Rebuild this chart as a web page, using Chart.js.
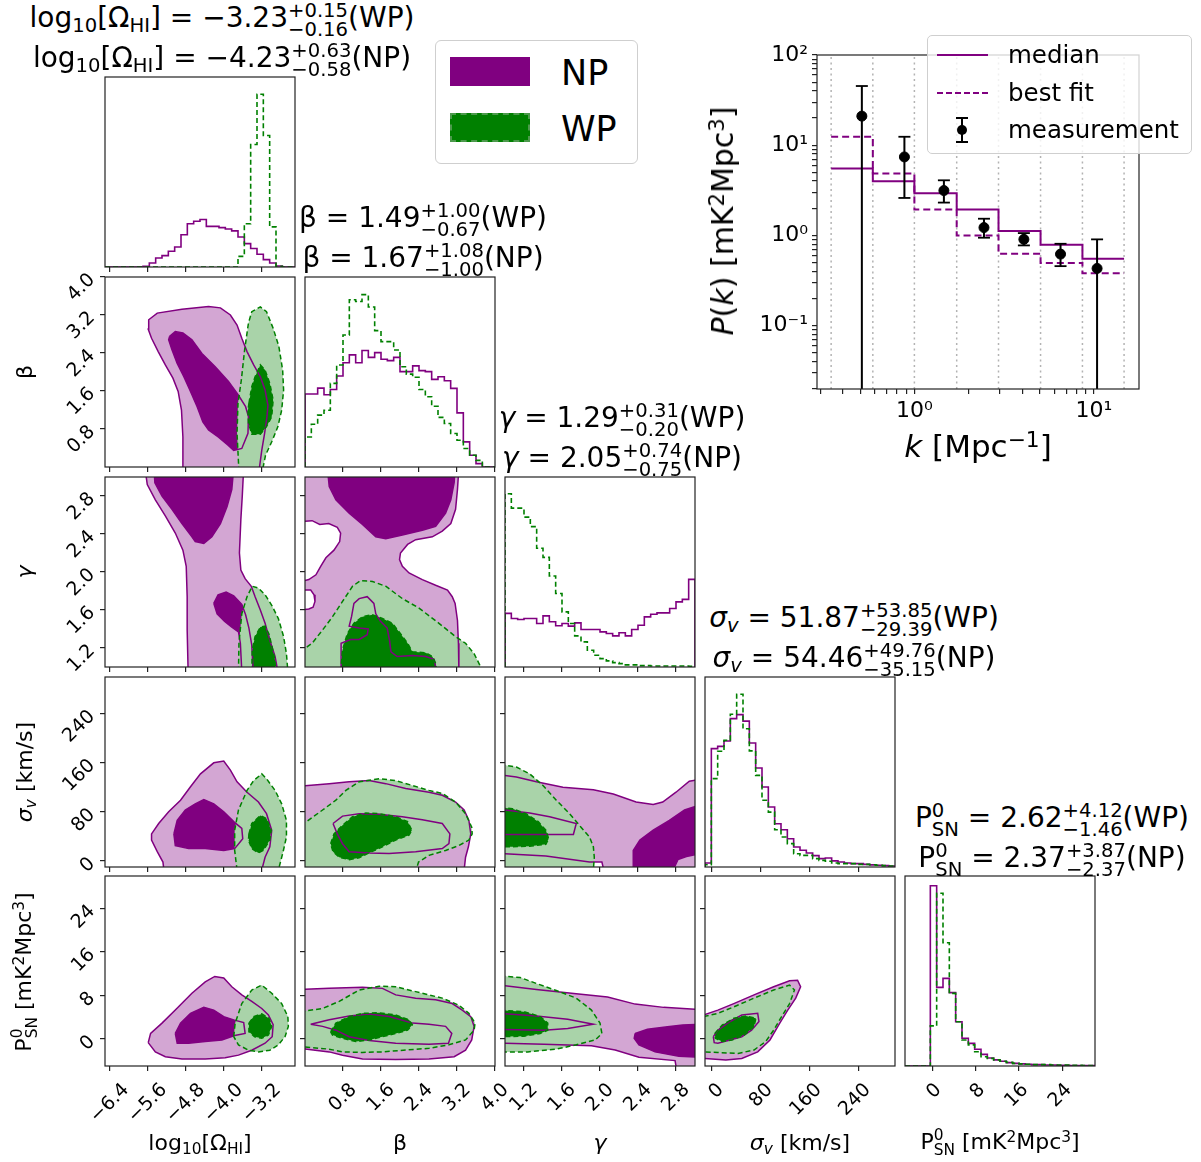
<!DOCTYPE html>
<html>
<head>
<meta charset="utf-8">
<script src="https://cdn.jsdelivr.net/npm/chart.js@4/dist/chart.umd.min.js"></script>
<style>
  body { margin: 0; width: 1201px; height: 1162px; position: relative; overflow: hidden; background: #fff; font-family: "DejaVu Sans", sans-serif; color: #000; }
  canvas { position: absolute; }
  .txt { position: absolute; white-space: nowrap; line-height: 1; }
  .title { font-size: 28px; transform: translateX(-50%); }
  .pm { display: inline-block; font-size: 0.7em; line-height: 0.95; vertical-align: -0.42em; text-align: left; }
  .pm span { display: block; }
  sub { font-size: 0.7em; vertical-align: -0.25em; line-height: 0; }
  sup { font-size: 0.7em; vertical-align: 0.45em; line-height: 0; }
  .xlab { font-size: 22px; transform: translate(-50%, -50%); }
  .ylab { font-size: 22px; transform: translate(-50%, -50%) rotate(-90deg); }
  .box { position: absolute; border: 1px solid #cfcfcf; border-radius: 6px; background: rgba(255,255,255,0.8); }
  .sw { position: absolute; }
</style>
</head>
<body>
<script>
'use strict'

// ---------- parameter axes ----------
const paramRanges = [[-6.5, -2.5], [0, 4], [1, 3], [-10, 300], [-5, 30]]
const omegaTicks = [-6.4, -5.6, -4.8, -4.0, -3.2]
const betaTicks = [0.8, 1.6, 2.4, 3.2, 4.0]
const gammaTicks = [1.2, 1.6, 2.0, 2.4, 2.8]
const sigmaTicks = [0, 80, 160, 240]
const psnTicks = [0, 8, 16, 24]
const paramTicks = [omegaTicks, betaTicks, gammaTicks, sigmaTicks, psnTicks]
const tickDecimals = [1, 1, 1, 0, 0]

// ---------- title numbers ----------
const wpMedian = [-3.23, 1.49, 1.29, 51.87, 2.62]
const wpPlus = [0.15, 1.00, 0.31, 53.85, 4.12]
const wpMinus = [0.16, 0.67, 0.20, 29.39, 1.46]
const npMedian = [-4.23, 1.67, 2.05, 54.46, 2.37]
const npPlus = [0.63, 1.08, 0.74, 49.76, 3.87]
const npMinus = [0.58, 1.00, 0.75, 35.15, 2.37]

// ---------- 1D histograms (30 bins over each axis range, height as fraction of panel) ----------
const npHistOmega = [0, 0, 0, 0, 0, 0, 0.004, 0.021, 0.047, 0.060, 0.083, 0.105, 0.170, 0.228, 0.241, 0.250, 0.214, 0.214, 0.207, 0.200, 0.190, 0.158, 0.123, 0.097, 0.067, 0.039, 0.021, 0.005, 0, 0]
const wpHistOmega = [0, 0, 0, 0, 0, 0, 0, 0, 0, 0, 0, 0, 0, 0, 0, 0, 0, 0, 0, 0, 0, 0.056, 0.228, 0.645, 0.909, 0.692, 0.211, 0.004, 0, 0]
const npHistBeta = [0.384, 0.384, 0.415, 0.380, 0.408, 0.479, 0.549, 0.590, 0.549, 0.613, 0.577, 0.602, 0.567, 0.560, 0.577, 0.502, 0.502, 0.532, 0.507, 0.502, 0.461, 0.475, 0.454, 0.414, 0.285, 0.132, 0.062, 0.018, 0, 0]
const wpHistBeta = [0.158, 0.225, 0.273, 0.299, 0.440, 0.537, 0.695, 0.880, 0.871, 0.907, 0.842, 0.718, 0.660, 0.660, 0.616, 0.528, 0.489, 0.472, 0.408, 0.370, 0.320, 0.261, 0.229, 0.176, 0.141, 0.097, 0.062, 0.035, 0, 0]
const npHistGamma = [0.282, 0.255, 0.250, 0.255, 0.255, 0.229, 0.269, 0.238, 0.217, 0.229, 0.215, 0.232, 0.197, 0.197, 0.197, 0.185, 0.176, 0.164, 0.180, 0.164, 0.197, 0.220, 0.264, 0.278, 0.285, 0.285, 0.308, 0.343, 0.356, 0.461]
const wpHistGamma = [0.912, 0.836, 0.836, 0.789, 0.739, 0.625, 0.577, 0.479, 0.387, 0.290, 0.229, 0.164, 0.132, 0.088, 0.062, 0.044, 0.032, 0.023, 0.018, 0.011, 0.011, 0.007, 0.007, 0.005, 0.005, 0.005, 0.005, 0.005, 0.005, 0.004]
const npHistSigma = [0.021, 0.623, 0.635, 0.663, 0.781, 0.802, 0.768, 0.653, 0.521, 0.421, 0.316, 0.228, 0.196, 0.149, 0.105, 0.088, 0.074, 0.060, 0.044, 0.047, 0.032, 0.026, 0.021, 0.018, 0.018, 0.014, 0.011, 0.009, 0.007, 0.005]
const wpHistSigma = [0.012, 0.465, 0.609, 0.667, 0.804, 0.909, 0.728, 0.611, 0.482, 0.351, 0.289, 0.196, 0.158, 0.123, 0.070, 0.061, 0.061, 0.044, 0.035, 0.030, 0.021, 0.018, 0.018, 0.018, 0.014, 0.014, 0.012, 0.009, 0.007, 0.005]
const npHistPsn = [0, 0, 0, 0, 0.949, 0.414, 0.461, 0.386, 0.233, 0.146, 0.119, 0.088, 0.061, 0.042, 0.032, 0.025, 0.018, 0.014, 0.011, 0.009, 0.007, 0.007, 0.005, 0.005, 0.004, 0.004, 0.003, 0.003, 0.003, 0.002]
const wpHistPsn = [0, 0, 0, 0, 0.211, 0.909, 0.649, 0.382, 0.233, 0.137, 0.111, 0.075, 0.049, 0.040, 0.032, 0.025, 0.019, 0.014, 0.011, 0.009, 0.007, 0.007, 0.007, 0.005, 0.005, 0.005, 0.004, 0.004, 0.003, 0.003]
const npHists = [npHistOmega, npHistBeta, npHistGamma, npHistSigma, npHistPsn]
const wpHists = [wpHistOmega, wpHistBeta, wpHistGamma, wpHistSigma, wpHistPsn]

// ---------- 2D credible regions, [x, y] in data units ----------
const npOuterOmegaBeta = [[-4.86, -0.1], [-4.86, 0.63], [-4.89, 1.20], [-4.96, 1.59], [-5.07, 1.87], [-5.23, 2.15], [-5.38, 2.43], [-5.52, 2.71], [-5.59, 2.90], [-5.58, 3.10], [-5.40, 3.24], [-4.88, 3.32], [-4.32, 3.38], [-4.07, 3.35], [-3.86, 3.20], [-3.72, 2.99], [-3.62, 2.71], [-3.51, 2.43], [-3.37, 2.15], [-3.23, 1.90], [-3.13, 1.62], [-3.07, 1.30], [-3.09, 1.06], [-3.14, 0.71], [-3.20, 0.35], [-3.26, -0.1]]
const npInnerOmegaBeta = [[-5.14, 2.75], [-5.02, 2.85], [-4.86, 2.82], [-4.67, 2.68], [-4.46, 2.39], [-4.18, 2.11], [-3.90, 1.80], [-3.69, 1.51], [-3.54, 1.27], [-3.48, 1.06], [-3.49, 0.71], [-3.62, 0.39], [-3.79, 0.35], [-3.91, 0.46], [-4.11, 0.63], [-4.32, 0.78], [-4.44, 0.95], [-4.56, 1.27], [-4.70, 1.59], [-4.84, 1.90], [-4.98, 2.18], [-5.09, 2.47], [-5.16, 2.68]]
const wpOuterOmegaBeta = [[-3.68, -0.1], [-3.72, 0.71], [-3.70, 1.34], [-3.63, 1.83], [-3.56, 2.47], [-3.48, 3.03], [-3.41, 3.27], [-3.23, 3.37], [-3.10, 3.27], [-2.96, 2.92], [-2.84, 2.54], [-2.76, 2.04], [-2.74, 1.62], [-2.78, 1.20], [-2.86, 0.85], [-2.99, 0.53], [-3.12, 0.25], [-3.19, -0.1]]
const wpInnerOmegaBeta = [[-3.47, 1.34], [-3.41, 1.69], [-3.34, 1.90], [-3.23, 2.15], [-3.13, 2.04], [-3.03, 1.76], [-2.96, 1.41], [-2.99, 1.06], [-3.10, 0.85], [-3.23, 0.69], [-3.41, 0.69], [-3.48, 0.92], [-3.49, 1.20]]

const npOuterOmegaGamma = [[-5.66, 3.1], [-5.61, 2.92], [-5.44, 2.76], [-5.23, 2.59], [-5.02, 2.41], [-4.86, 2.23], [-4.79, 2.06], [-4.77, 1.74], [-4.77, 1.39], [-4.75, 0.95], [-2.86, 0.95], [-2.92, 1.11], [-3.03, 1.28], [-3.13, 1.46], [-3.23, 1.60], [-3.34, 1.74], [-3.42, 1.85], [-3.55, 1.93], [-3.64, 2.02], [-3.67, 2.20], [-3.64, 2.55], [-3.61, 2.80], [-3.58, 3.1]]
const npInnerOmegaGammaTop = [[-5.47, 3.1], [-5.45, 2.94], [-5.30, 2.80], [-5.09, 2.66], [-4.88, 2.51], [-4.67, 2.37], [-4.60, 2.32], [-4.42, 2.30], [-4.25, 2.37], [-4.07, 2.51], [-3.93, 2.69], [-3.83, 2.87], [-3.79, 3.1]]
const npInnerOmegaGammaLow = [[-4.21, 1.67], [-4.12, 1.76], [-3.95, 1.79], [-3.79, 1.75], [-3.62, 1.66], [-3.54, 1.55], [-3.47, 1.41], [-3.41, 1.23], [-3.38, 0.95], [-3.62, 0.95], [-3.65, 1.25], [-3.69, 1.37], [-3.83, 1.42], [-3.98, 1.48], [-4.14, 1.56]]
const wpOuterOmegaGamma = [[-3.69, 0.95], [-3.68, 1.25], [-3.62, 1.56], [-3.51, 1.74], [-3.40, 1.85], [-3.27, 1.83], [-3.13, 1.76], [-2.99, 1.65], [-2.85, 1.51], [-2.74, 1.32], [-2.68, 1.14], [-2.65, 0.95]]
const wpInnerOmegaGamma = [[-3.41, 0.95], [-3.40, 1.18], [-3.34, 1.32], [-3.23, 1.42], [-3.13, 1.43], [-3.05, 1.35], [-2.98, 1.21], [-2.92, 1.07], [-2.91, 0.95]]

const npOuterBetaGamma = [[-0.1, 3.1], [3.24, 3.1], [3.21, 2.87], [3.17, 2.66], [3.07, 2.51], [2.89, 2.43], [2.68, 2.37], [2.33, 2.34], [2.16, 2.29], [2.01, 2.20], [1.99, 2.13], [2.05, 2.06], [2.19, 1.99], [2.47, 1.92], [2.75, 1.86], [3.00, 1.81], [3.10, 1.74], [3.16, 1.67], [3.21, 1.49], [3.23, 1.25], [3.24, 0.95], [-0.1, 0.95]]
const npHoleBetaGamma1 = [[-0.1, 2.53], [0.15, 2.54], [0.31, 2.50], [0.50, 2.51], [0.68, 2.47], [0.75, 2.41], [0.73, 2.32], [0.61, 2.23], [0.44, 2.15], [0.33, 2.06], [0.23, 1.97], [0.08, 1.92], [-0.1, 1.90]]
const npHoleBetaGamma2 = [[-0.1, 1.81], [0.12, 1.81], [0.19, 1.76], [0.21, 1.69], [0.17, 1.63], [0.08, 1.61], [-0.1, 1.60]]
const npInnerBetaGammaTop = [[0.47, 3.1], [0.51, 2.90], [0.65, 2.76], [0.93, 2.62], [1.21, 2.50], [1.49, 2.37], [1.70, 2.35], [2.05, 2.39], [2.47, 2.44], [2.75, 2.48], [2.96, 2.62], [3.07, 2.76], [3.14, 2.94], [3.16, 3.1]]
const npInnerBetaGammaLow = [[0.77, 0.95], [0.76, 1.25], [0.96, 1.29], [1.14, 1.29], [1.31, 1.34], [1.33, 1.40], [1.14, 1.41], [0.93, 1.43], [0.98, 1.53], [1.03, 1.67], [1.14, 1.72], [1.31, 1.74], [1.45, 1.67], [1.49, 1.56], [1.59, 1.48], [1.73, 1.41], [1.78, 1.28], [1.81, 1.16], [1.94, 1.11], [2.26, 1.12], [2.54, 1.11], [2.72, 1.08], [2.77, 0.95]]
const wpOuterBetaGamma = [[-0.1, 1.16], [0.15, 1.25], [0.37, 1.39], [0.58, 1.53], [0.79, 1.69], [1.00, 1.85], [1.17, 1.91], [1.42, 1.90], [1.70, 1.85], [2.05, 1.72], [2.40, 1.62], [2.82, 1.46], [3.17, 1.32], [3.38, 1.25], [3.56, 1.14], [3.68, 1.02], [3.69, 0.95], [-0.1, 0.95]]
const wpInnerBetaGamma = [[0.75, 0.95], [0.79, 1.18], [0.89, 1.35], [1.03, 1.46], [1.21, 1.53], [1.42, 1.55], [1.63, 1.51], [1.84, 1.46], [2.01, 1.35], [2.16, 1.25], [2.26, 1.16], [2.54, 1.15], [2.68, 1.11], [2.75, 1.04], [2.77, 0.95]]

const npOuterOmegaSigma = [[-5.26, -15], [-5.28, -2], [-5.40, 15], [-5.52, 34], [-5.52, 44], [-5.37, 61], [-5.16, 80], [-4.91, 99], [-4.70, 121], [-4.49, 142], [-4.21, 160], [-4.00, 163], [-3.86, 148], [-3.72, 129], [-3.51, 112], [-3.27, 96], [-3.10, 77], [-2.99, 50], [-3.03, 23], [-3.13, 6], [-3.20, -15]]
const npInnerOmegaSigma = [[-5.05, 44], [-4.98, 66], [-4.81, 83], [-4.60, 93], [-4.42, 100], [-4.21, 93], [-4.00, 80], [-3.79, 64], [-3.62, 53], [-3.60, 36], [-3.77, 20], [-4.00, 17], [-4.39, 20], [-4.74, 20], [-5.02, 25]]
const wpOuterOmegaSigma = [[-3.72, -15], [-3.77, 17], [-3.77, 50], [-3.69, 83], [-3.51, 115], [-3.37, 131], [-3.20, 142], [-3.10, 134], [-2.92, 115], [-2.78, 93], [-2.68, 66], [-2.68, 39], [-2.75, 15], [-2.85, -15]]
const wpInnerOmegaSigma = [[-3.47, 44], [-3.41, 61], [-3.23, 74], [-3.10, 69], [-3.00, 50], [-3.03, 34], [-3.17, 17], [-3.27, 13], [-3.41, 20], [-3.48, 34]]

const npOuterBetaSigma = [[-0.1, 122], [0.51, 126], [0.93, 129], [1.35, 131], [1.70, 126], [2.12, 118], [2.61, 112], [2.89, 107], [3.17, 96], [3.35, 83], [3.45, 66], [3.49, 44], [3.44, 23], [3.38, 6], [3.35, -15], [-0.1, -15]]
const npInnerBetaSigma = [[0.59, 61], [0.79, 73], [1.14, 77], [1.56, 76], [2.05, 72], [2.47, 67], [2.89, 61], [3.05, 44], [3.03, 28], [2.89, 20], [2.33, 15], [1.77, 12], [1.35, 13], [0.93, 15], [0.79, 28], [0.68, 44]]
const wpOuterBetaSigma = [[-0.1, 60], [0.05, 65], [0.37, 83], [0.65, 99], [0.86, 115], [1.14, 129], [1.56, 134], [1.91, 131], [2.26, 123], [2.61, 115], [2.89, 110], [3.17, 96], [3.38, 77], [3.51, 55], [3.52, 44], [3.45, 34], [3.24, 25], [2.96, 17], [2.61, 9], [2.39, -2], [2.34, -15], [-0.1, -15]]
const wpInnerBetaSigma = [[0.54, 28], [0.61, 44], [0.79, 58], [1.00, 72], [1.28, 78], [1.56, 77], [1.91, 72], [2.16, 64], [2.25, 50], [2.19, 42], [1.91, 34], [1.63, 23], [1.35, 13], [1.14, 5], [0.93, 2], [0.72, 6], [0.59, 15]]

const npOuterGammaSigma = [[0.95, 140], [1.12, 137], [1.33, 129], [1.61, 120], [1.93, 116], [2.14, 109], [2.38, 96], [2.56, 92], [2.66, 96], [2.80, 112], [2.94, 130], [3.05, 133], [3.05, -15], [0.95, -15]]
const npHoleGammaSigma = [[0.95, 12], [1.43, 8], [1.89, -2], [2.02, -2], [2.04, -15], [0.95, -15]]
const npInnerGammaSigmaRight = [[2.35, -15], [2.35, 17], [2.42, 34], [2.56, 50], [2.73, 66], [2.89, 83], [3.05, 91], [3.05, 12], [2.91, 7], [2.82, 2], [2.77, -15]]
const npInnerGammaSigmaLeft = [[0.95, 84], [1.26, 78], [1.47, 72], [1.75, 61], [1.72, 43], [1.47, 43], [0.95, 43]]
const wpOuterGammaSigma = [[0.95, 157], [1.12, 153], [1.26, 142], [1.40, 123], [1.54, 99], [1.68, 77], [1.80, 55], [1.89, 39], [1.93, 23], [1.94, 6], [1.93, -15], [0.95, -15]]
const wpInnerGammaSigma = [[0.95, 87], [1.08, 85], [1.22, 77], [1.35, 64], [1.43, 50], [1.46, 36], [1.43, 27], [1.26, 24], [1.08, 23], [0.95, 23]]

const npOuterOmegaPsn = [[-5.59, -0.7], [-5.54, 1.0], [-5.30, 2.9], [-5.02, 5.3], [-4.67, 8.4], [-4.39, 10.5], [-4.19, 11.5], [-4.00, 11.2], [-3.83, 9.6], [-3.62, 8.1], [-3.41, 6.9], [-3.20, 5.6], [-3.06, 4.4], [-2.96, 2.6], [-2.98, 0.4], [-3.13, -0.8], [-3.41, -2.1], [-3.69, -3.0], [-3.97, -3.5], [-4.39, -3.7], [-4.88, -3.7], [-5.23, -3.3], [-5.44, -2.4]]
const npInnerOmegaPsn = [[-5.02, 1.0], [-4.91, 2.9], [-4.70, 4.7], [-4.42, 5.8], [-4.21, 5.3], [-4.00, 4.1], [-3.79, 3.5], [-3.58, 3.0], [-3.55, 1.0], [-3.77, 0.6], [-4.04, -0.2], [-4.39, -0.5], [-4.74, -0.8], [-4.98, -0.8]]
const wpOuterOmegaPsn = [[-3.79, 0.4], [-3.76, 2.9], [-3.62, 6.5], [-3.41, 9.0], [-3.20, 9.9], [-2.99, 8.4], [-2.78, 6.5], [-2.65, 4.1], [-2.64, 2.3], [-2.71, 0.4], [-2.85, -1.1], [-3.03, -2.1], [-3.27, -2.4], [-3.48, -2.1], [-3.69, -1.1]]
const wpInnerOmegaPsn = [[-3.47, 2.9], [-3.37, 4.1], [-3.20, 4.6], [-3.05, 3.8], [-2.99, 2.3], [-3.06, 0.7], [-3.20, 0.1], [-3.35, 0.4], [-3.47, 1.3]]

const npOuterBetaPsn = [[-0.1, 9.1], [0.51, 9.3], [1.21, 9.5], [1.63, 9.3], [1.91, 8.1], [2.33, 7.5], [2.75, 7.2], [3.10, 6.5], [3.31, 5.3], [3.49, 4.1], [3.56, 2.3], [3.51, -0.2], [3.38, -2.1], [3.14, -3.3], [2.61, -3.7], [1.91, -3.8], [1.21, -3.7], [0.79, -3.0], [0.51, -2.4], [-0.1, -1.75]]
const npInnerBetaPsn = [[0.12, 2.7], [0.51, 3.5], [0.93, 4.2], [1.35, 4.6], [1.77, 4.1], [2.26, 2.9], [2.61, 2.7], [2.96, 2.3], [3.09, 1.0], [3.02, -0.8], [2.61, -1.0], [1.91, -0.8], [1.35, -0.3], [0.93, 0.4], [0.65, 1.6], [0.37, 2.3]]
const wpOuterBetaPsn = [[-0.1, 5.0], [0.37, 5.6], [0.72, 6.9], [1.14, 9.0], [1.56, 9.7], [1.91, 9.6], [2.33, 8.7], [2.89, 7.5], [3.24, 6.2], [3.45, 4.7], [3.58, 2.9], [3.56, 1.6], [3.38, -0.2], [3.03, -1.1], [2.61, -1.75], [2.12, -2.05], [1.63, -2.4], [1.21, -2.5], [0.79, -2.4], [0.51, -1.9], [-0.1, -1.4]]
const wpInnerBetaPsn = [[0.54, 1.3], [0.65, 2.9], [0.93, 4.1], [1.21, 4.7], [1.56, 4.8], [1.91, 4.4], [2.19, 3.5], [2.26, 2.6], [2.16, 1.6], [1.91, 1.0], [1.63, 0.4], [1.35, -0.2], [1.07, -0.5], [0.79, 0.1], [0.58, 0.7]]

const npOuterGammaPsn = [[0.95, 9.9], [1.33, 9.1], [1.75, 8.3], [2.08, 7.7], [2.37, 6.4], [2.67, 5.8], [3.05, 5.4], [3.05, -6], [2.81, -6], [2.79, -4.0], [2.41, -3.4], [2.16, -2.05], [1.91, -1.25], [1.41, -1.0], [0.95, -0.8]]
const npInnerGammaPsnRight = [[2.37, 1.0], [2.50, 1.75], [2.71, 2.25], [2.87, 2.55], [3.05, 2.7], [3.05, -3.4], [2.83, -3.2], [2.58, -2.4], [2.41, -1.1], [2.36, 0.1]]
const npInnerGammaPsnLeft = [[0.95, 4.7], [1.33, 4.2], [1.66, 3.6], [1.93, 2.7], [1.66, 1.9], [1.41, 1.6], [0.95, 1.75]]
const wpOuterGammaPsn = [[0.95, 11.6], [1.16, 11.3], [1.33, 10.2], [1.54, 8.9], [1.75, 7.5], [1.91, 5.3], [2.00, 2.9], [2.02, 1.0], [1.95, -0.2], [1.75, -1.1], [1.54, -1.9], [1.24, -2.4], [0.95, -2.4]]
const wpInnerGammaPsn = [[0.95, 5.3], [1.20, 5.0], [1.37, 4.1], [1.45, 2.9], [1.45, 1.6], [1.37, 1.0], [1.20, 0.5], [0.95, 0.4]]

const npOuterSigmaPsn = [[-12, 4.4], [11, 5.3], [37, 6.5], [70, 8.1], [102, 9.6], [128, 10.7], [141, 10.8], [146, 9.6], [138, 7.5], [125, 5.3], [112, 2.9], [96, -0.2], [76, -2.4], [50, -3.6], [24, -3.9], [-12, -3.6]]
const npInnerSigmaPsn = [[3.6, 0.4], [11, 1.6], [31, 3.2], [50, 4.4], [76, 4.7], [78, 3.2], [66, 1.6], [50, 0.4], [31, -0.2], [11, -0.8], [5, -0.7]]
const wpOuterSigmaPsn = [[-12, 4.1], [11, 4.7], [37, 5.9], [70, 7.5], [102, 9.0], [128, 9.9], [136, 9.0], [128, 6.5], [115, 4.1], [102, 1.6], [89, -0.5], [70, -2.05], [44, -2.7], [11, -2.5], [-12, -2.4]]
const wpInnerSigmaPsn = [[6, 1.0], [18, 2.55], [37, 3.8], [57, 4.2], [73, 3.8], [70, 2.25], [54, 0.7], [34, -0.2], [18, -0.5], [7, 0.1]]

// ---------- power spectrum inset ----------
const kEdges = [0.344, 0.587, 1.0, 1.72, 2.94, 5.04, 8.62, 14.7]
const pkMedian = [5.51, 3.98, 2.93, 1.94, 1.12, 0.787, 0.55]
const pkBestFit = [12.4, 4.85, 1.93, 1.0, 0.625, 0.493, 0.381]
const kMeas = [0.510, 0.880, 1.46, 2.44, 4.07, 6.51, 10.4]
const pkMeas = [21.0, 7.41, 3.14, 1.22, 0.903, 0.620, 0.430]
const pkErrHi = [45.3, 12.4, 4.08, 1.53, 1.06, 0.807, 0.903]
const pkErrLo = [0.001, 2.60, 2.31, 0.942, 0.774, 0.456, 0.001] // first/last run off the bottom
const kTickValues = [0.3, 0.4, 0.5, 0.6, 0.7, 0.8, 0.9, 1, 2, 3, 4, 5, 6, 7, 8, 9, 10]
const pkTickValues = [0.02, 0.03, 0.04, 0.05, 0.06, 0.07, 0.08, 0.09, 0.1, 0.2, 0.3, 0.4, 0.5, 0.6, 0.7, 0.8, 0.9, 1, 2, 3, 4, 5, 6, 7, 8, 9, 10, 20, 30, 40, 50, 60, 70, 80, 90, 100]
const decadeLabels = { '0.1': '10\u207B\u00B9', '1': '10\u2070', '10': '10\u00B9', '100': '10\u00B2' }

// ---------- styling / layout ----------
const PURPLE = '#800080'
const PURPLE_LIGHT = '#d3a6d3'
const GREEN = '#008000'
const GREEN_LIGHT = '#a9d3a9'
const panelLefts = [105, 305, 505, 705, 905]
const panelTops = [77, 277, 477, 677, 876]
const PANEL = 190
const ML = 78, MT = 12, MR = 12, MB = 88 // canvas margins round each panel
const TICK_FONT = 19

const stack = (a, b) => `<span class="pm"><span>${a}</span><span>${b}</span></span>`
const paramNames = ['log<sub>10</sub>[\u03A9<sub>HI</sub>]', '\u03B2', '<i>\u03B3</i>', '<i>\u03C3<sub>v</sub></i>', 'P' + stack('0', 'SN')]
const axisNames = ['log<sub>10</sub>[\u03A9<sub>HI</sub>]', '\u03B2', '<i>\u03B3</i>', '<i>\u03C3<sub>v</sub></i> [km/s]', 'P' + stack('0', 'SN') + ' [mK<sup>2</sup>Mpc<sup>3</sup>]']
const titleCenters = [222, 423, 622, 854, 1052]

const fmtTick = (v, d) => (v < 0 ? '\u2212' : '') + Math.abs(v).toFixed(d)
const fmt2 = v => (v < 0 ? '\u2212' : '') + Math.abs(v).toFixed(2)

const meas = document.createElement('canvas').getContext('2d')
meas.font = TICK_FONT + 'px "DejaVu Sans"'
// rotated labels are anchored at their right end; shift by ~w/(2*sqrt 2) to centre them on the tick
const centreShift = p => {
  const ws = paramTicks[p].map(v => meas.measureText(fmtTick(v, tickDecimals[p])).width)
  return 0.354 * ws.reduce((a, b) => a + b, 0) / ws.length
}

const framePlugin = {
  id: 'frame',
  afterDraw (chart) {
    const { ctx, chartArea: a } = chart
    ctx.save()
    ctx.strokeStyle = '#222'
    ctx.lineWidth = 1.2
    ctx.strokeRect(a.left, a.top, a.right - a.left, a.bottom - a.top)
    ctx.restore()
  }
}

const addCanvas = (left, top, w, h) => {
  const cv = document.createElement('canvas')
  cv.width = w
  cv.height = h
  cv.style.left = left + 'px'
  cv.style.top = top + 'px'
  cv.style.width = w + 'px'
  cv.style.height = h + 'px'
  document.body.appendChild(cv)
  return cv
}

const addText = (cls, html, left, top, size) => {
  const d = document.createElement('div')
  d.className = 'txt ' + cls
  d.innerHTML = html
  d.style.left = left + 'px'
  d.style.top = top + 'px'
  if (size) d.style.fontSize = size + 'px'
  document.body.appendChild(d)
  return d
}

const zeroPad = s => { s.paddingLeft = s.paddingRight = s.paddingTop = s.paddingBottom = 0 }

const paramAxis = (p, isX, labels) => ({
  type: 'linear',
  min: paramRanges[p][0],
  max: paramRanges[p][1],
  afterBuildTicks: s => { s.ticks = paramTicks[p].map(v => ({ value: v })) },
  afterFit: s => { if (isX) s.height = MB; else s.width = ML; zeroPad(s) },
  border: { display: false },
  grid: { display: true, drawOnChartArea: false, drawTicks: true, tickLength: 5, color: '#222', lineWidth: 1.2 },
  ticks: {
    display: labels,
    autoSkip: false,
    minRotation: 45,
    maxRotation: 45,
    padding: isX ? 8 : 8,
    color: '#000',
    font: { family: 'DejaVu Sans', size: TICK_FONT },
    callback: v => fmtTick(v, tickDecimals[p]),
    labelOffset: isX ? centreShift(p) : 0
  }
})

const blankAxis = (range) => ({
  type: 'linear',
  min: range[0],
  max: range[1],
  afterFit: s => { s.width = ML; zeroPad(s) },
  border: { display: false },
  grid: { display: false },
  ticks: { display: false }
})

const panelChart = (r, c, datasets, yAxis) => {
  const cv = addCanvas(panelLefts[c] - ML, panelTops[r] - MT, ML + PANEL + MR, MT + PANEL + MB)
  datasets.forEach((d, i) => { d.order = datasets.length - i }) // first in list is painted first
  return new Chart(cv, {
    type: 'line',
    data: { datasets },
    options: {
      responsive: false,
      animation: false,
      events: [],
      layout: { padding: { top: MT, right: MR, left: 0, bottom: 0 } },
      plugins: { legend: { display: false }, tooltip: { enabled: false } },
      scales: { x: paramAxis(c, true, r === 4), y: yAxis }
    },
    plugins: [framePlugin]
  })
}

const polyData = pts => pts.map(p => ({ x: p[0], y: p[1] })).concat([{ x: pts[0][0], y: pts[0][1] }])
const fillSet = (pts, color) => ({ data: polyData(pts), fill: 'shape', backgroundColor: color, borderWidth: 0, pointRadius: 0, tension: 0 })
const lineSet = (pts, color, dash) => ({ data: polyData(pts), fill: false, borderColor: color, borderWidth: 1.5, borderDash: dash || [], pointRadius: 0, tension: 0 })

const histSet = (heights, range, color, dash) => {
  const w = (range[1] - range[0]) / heights.length
  const d = [{ x: range[0], y: 0 }]
  heights.forEach((h, i) => d.push({ x: range[0] + i * w, y: h }))
  d.push({ x: range[1], y: heights[heights.length - 1] })
  d.push({ x: range[1], y: 0 })
  return { data: d, stepped: true, fill: false, borderColor: color, borderWidth: 1.6, borderDash: dash || [], pointRadius: 0 }
}

// ---------- diagonal histograms ----------
for (let i = 0; i < 5; i++) {
  panelChart(i, i, [
    histSet(npHists[i], paramRanges[i], PURPLE),
    histSet(wpHists[i], paramRanges[i], GREEN, [5, 3])
  ], blankAxis([0, 1]))
}

// ---------- pair panels ----------
const pairPanels = [
  { r: 1, c: 0, npOuter: [npOuterOmegaBeta], npHoles: [], npInner: [npInnerOmegaBeta], wpOuter: [wpOuterOmegaBeta], wpInner: [wpInnerOmegaBeta] },
  { r: 2, c: 0, npOuter: [npOuterOmegaGamma], npHoles: [], npInner: [npInnerOmegaGammaTop, npInnerOmegaGammaLow], wpOuter: [wpOuterOmegaGamma], wpInner: [wpInnerOmegaGamma] },
  { r: 2, c: 1, npOuter: [npOuterBetaGamma], npHoles: [npHoleBetaGamma1, npHoleBetaGamma2], npInner: [npInnerBetaGammaTop, npInnerBetaGammaLow], wpOuter: [wpOuterBetaGamma], wpInner: [wpInnerBetaGamma] },
  { r: 3, c: 0, npOuter: [npOuterOmegaSigma], npHoles: [], npInner: [npInnerOmegaSigma], wpOuter: [wpOuterOmegaSigma], wpInner: [wpInnerOmegaSigma] },
  { r: 3, c: 1, npOuter: [npOuterBetaSigma], npHoles: [], npInner: [npInnerBetaSigma], wpOuter: [wpOuterBetaSigma], wpInner: [wpInnerBetaSigma] },
  { r: 3, c: 2, npOuter: [npOuterGammaSigma], npHoles: [npHoleGammaSigma], npInner: [npInnerGammaSigmaRight, npInnerGammaSigmaLeft], wpOuter: [wpOuterGammaSigma], wpInner: [wpInnerGammaSigma] },
  { r: 4, c: 0, npOuter: [npOuterOmegaPsn], npHoles: [], npInner: [npInnerOmegaPsn], wpOuter: [wpOuterOmegaPsn], wpInner: [wpInnerOmegaPsn] },
  { r: 4, c: 1, npOuter: [npOuterBetaPsn], npHoles: [], npInner: [npInnerBetaPsn], wpOuter: [wpOuterBetaPsn], wpInner: [wpInnerBetaPsn] },
  { r: 4, c: 2, npOuter: [npOuterGammaPsn], npHoles: [], npInner: [npInnerGammaPsnRight, npInnerGammaPsnLeft], wpOuter: [wpOuterGammaPsn], wpInner: [wpInnerGammaPsn] },
  { r: 4, c: 3, npOuter: [npOuterSigmaPsn], npHoles: [], npInner: [npInnerSigmaPsn], wpOuter: [wpOuterSigmaPsn], wpInner: [wpInnerSigmaPsn] }
]

pairPanels.forEach(p => {
  const sets = [].concat(
    p.npOuter.map(s => fillSet(s, PURPLE_LIGHT)),
    p.npHoles.map(s => fillSet(s, '#ffffff')),
    p.npInner.map(s => fillSet(s, PURPLE)),
    p.wpOuter.map(s => fillSet(s, GREEN_LIGHT)),
    p.wpInner.map(s => fillSet(s, GREEN)),
    p.npOuter.map(s => lineSet(s, PURPLE)),
    p.npHoles.map(s => lineSet(s, PURPLE)),
    p.npInner.map(s => lineSet(s, PURPLE)),
    p.wpOuter.map(s => lineSet(s, GREEN, [5, 3])),
    p.wpInner.map(s => lineSet(s, GREEN, [5, 3]))
  )
  panelChart(p.r, p.c, sets, paramAxis(p.r, false, p.c === 0))
})

// ---------- titles and axis labels ----------
for (let i = 0; i < 5; i++) {
  addText('title', `${paramNames[i]} = ${fmt2(wpMedian[i])}${stack('+' + wpPlus[i].toFixed(2), '\u2212' + wpMinus[i].toFixed(2))}(WP)`, titleCenters[i], 2 + 200 * i)
  addText('title', `${paramNames[i]} = ${fmt2(npMedian[i])}${stack('+' + npPlus[i].toFixed(2), '\u2212' + npMinus[i].toFixed(2))}(NP)`, titleCenters[i], 42 + 200 * i)
  addText('xlab', axisNames[i], 200 + 200 * i, 1143)
  if (i > 0) addText('ylab', axisNames[i], 25, 172 + 200 * i)
}

// ---------- NP / WP legend ----------
const legBox = document.createElement('div')
legBox.className = 'box'
Object.assign(legBox.style, { left: '435px', top: '40px', width: '201px', height: '122px' })
document.body.appendChild(legBox)
const swNP = document.createElement('div')
swNP.className = 'sw'
Object.assign(swNP.style, { left: '450px', top: '57px', width: '80px', height: '29px', background: PURPLE })
document.body.appendChild(swNP)
const swWP = document.createElement('div')
swWP.className = 'sw'
Object.assign(swWP.style, { left: '450px', top: '113px', width: '76px', height: '25px', background: GREEN, border: '2px dashed #4d9a4d' })
document.body.appendChild(swWP)
addText('', 'NP', 561, 56, 35)
addText('', 'WP', 561, 112, 35)

// ---------- P(k) inset ----------
const PK_LEFT = 690, PK_TOP = 40, PK_W = 480, PK_H = 400
const PK_ML = 127, PK_MT = 15, PK_MR = 31, PK_MB = 51
const yMin = 0.0198, yMax = 100

const stepData = vals => vals.map((v, i) => ({ x: kEdges[i], y: v })).concat([{ x: kEdges[kEdges.length - 1], y: vals[vals.length - 1] }])
const edgeLines = []
kEdges.forEach(e => { edgeLines.push({ x: e, y: yMin }, { x: e, y: yMax }, { x: e, y: null }) })
const errLines = []
kMeas.forEach((k, i) => { errLines.push({ x: k, y: pkErrLo[i] }, { x: k, y: pkErrHi[i] }, { x: k, y: null }) })
const caps = []
kMeas.forEach((k, i) => { caps.push({ x: k, y: pkErrLo[i] }, { x: k, y: pkErrHi[i] }) })

const pkSets = [
  { data: edgeLines, borderColor: '#b3b3b3', borderWidth: 1.5, borderDash: [2, 3.5], pointRadius: 0, spanGaps: false },
  { data: stepData(pkMedian), stepped: true, borderColor: PURPLE, borderWidth: 2, pointRadius: 0 },
  { data: stepData(pkBestFit), stepped: true, borderColor: PURPLE, borderWidth: 2, borderDash: [7, 4], pointRadius: 0 },
  { data: errLines, borderColor: '#000', borderWidth: 2, pointRadius: 0, spanGaps: false },
  { data: caps, showLine: false, pointStyle: 'line', pointRadius: 6, pointBorderWidth: 1.8, pointBorderColor: '#000' },
  { data: kMeas.map((k, i) => ({ x: k, y: pkMeas[i] })), showLine: false, pointRadius: 5, pointBackgroundColor: '#000', pointBorderColor: '#000' }
]
pkSets.forEach((d, i) => { d.order = pkSets.length - i })

const logAxis = (min, max, values, isX) => ({
  type: 'logarithmic',
  min,
  max,
  afterBuildTicks: s => { s.ticks = values.map(v => ({ value: v })) },
  afterFit: s => { if (isX) s.height = PK_MB; else s.width = PK_ML; zeroPad(s) },
  border: { display: false },
  grid: { drawOnChartArea: false, drawTicks: true, tickLength: 5, color: '#222', lineWidth: 1.2 },
  ticks: { autoSkip: false, minRotation: 0, maxRotation: 0, padding: 4, color: '#000', font: { family: 'DejaVu Sans', size: 22 }, callback: v => decadeLabels[String(v)] || '' }
})

new Chart(addCanvas(PK_LEFT, PK_TOP, PK_W, PK_H), {
  type: 'line',
  data: { datasets: pkSets },
  options: {
    responsive: false,
    animation: false,
    events: [],
    layout: { padding: { top: PK_MT, right: PK_MR, left: 0, bottom: 0 } },
    plugins: { legend: { display: false }, tooltip: { enabled: false } },
    scales: { x: logAxis(0.287, 17.8, kTickValues, true), y: logAxis(yMin, yMax, pkTickValues, false) }
  },
  plugins: [framePlugin]
})

addText('ylab', '<i>P</i>(<i>k</i>) [mK<sup>2</sup>Mpc<sup>3</sup>]', 723, 221, 30)
addText('xlab', '<i>k</i> [Mpc<sup>\u22121</sup>]', 978, 446, 31)

// legend of the inset
const pkBox = document.createElement('div')
pkBox.className = 'box'
Object.assign(pkBox.style, { left: '927px', top: '35px', width: '263px', height: '117px', borderRadius: '5px' })
document.body.appendChild(pkBox)
const addSwatch = style => {
  const d = document.createElement('div')
  d.className = 'sw'
  Object.assign(d.style, style)
  document.body.appendChild(d)
}
addSwatch({ left: '937px', top: '54px', width: '51px', height: '0', borderTop: '2px solid ' + PURPLE })
addSwatch({ left: '937px', top: '92px', width: '51px', height: '0', borderTop: '2px dashed ' + PURPLE })
addSwatch({ left: '961px', top: '117px', width: '2px', height: '26px', background: '#000' })
addSwatch({ left: '956px', top: '117px', width: '12px', height: '2px', background: '#000' })
addSwatch({ left: '956px', top: '141px', width: '12px', height: '2px', background: '#000' })
addSwatch({ left: '957px', top: '125px', width: '10px', height: '10px', background: '#000', borderRadius: '50%' })
addText('', 'median', 1008, 43, 24.5)
addText('', 'best fit', 1008, 81, 24.5)
addText('', 'measurement', 1008, 118, 24.5)
</script>
</body>
</html>
